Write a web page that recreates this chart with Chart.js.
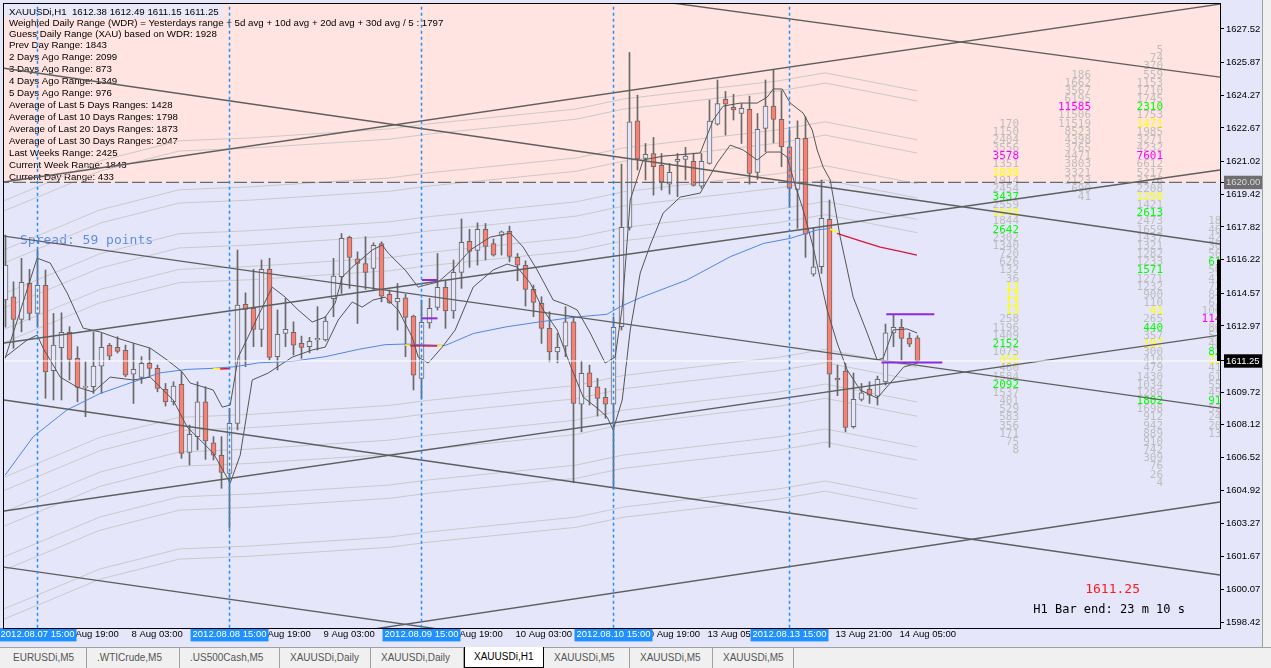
<!DOCTYPE html>
<html>
<head>
<meta charset="utf-8">
<title>XAUUSDi,H1</title>
<script src="https://cdn.jsdelivr.net/npm/chart.js@4.4.1/dist/chart.umd.min.js"></script>
<style>
  html, body { margin: 0; padding: 0; background: #f0f0f0; }
  #wrap { position: relative; width: 1271px; height: 668px; overflow: hidden; font-family: "Liberation Sans", Arial, sans-serif; }
  #chartBox { position: absolute; left: 0; top: 0; width: 1271px; height: 648px; }
  #tabs { position: absolute; left: 0; top: 647px; width: 1271px; height: 21px; background: #f0f0f0; border-top: 1px solid #a0a0a0; }
  .tab { position: absolute; top: 0; height: 20px; line-height: 19px; font-size: 10px; color: #555; border-right: 1px solid #a0a0a0; box-sizing: border-box; padding-left: 10px; white-space: nowrap; }
  .tab.on { background: #fff; color: #000; border: 1px solid #000; border-top: none; top: -1px; height: 21px; padding-left: 9px; }
</style>
</head>
<body>
<div id="wrap">
  <div id="chartBox"><canvas id="priceChart" width="1271" height="648"></canvas></div>
  <div id="tabs">
    <div class="tab" style="left:3px;width:84px">EURUSDi,M5</div>
    <div class="tab" style="left:87px;width:93px">.WTICrude,M5</div>
    <div class="tab" style="left:180px;width:100px">.US500Cash,M5</div>
    <div class="tab" style="left:280px;width:91px">XAUUSDi,Daily</div>
    <div class="tab" style="left:371px;width:93px">XAUUSDi,Daily</div>
    <div class="tab on" style="left:464px;width:80px">XAUUSDi,H1</div>
    <div class="tab" style="left:544px;width:86px">XAUUSDi,M5</div>
    <div class="tab" style="left:630px;width:83px">XAUUSDi,M5</div>
    <div class="tab" style="left:713px;width:81px">XAUUSDi,M5</div>
  </div>
</div>
<script>
// ---- chart data (H1 bars, index 0 = 2012.08.07 12:00) ----
const FIRST_BAR = -1;
const barOpen = [1614.24,1614.40,1613.29,1615.05,1613.58,1614.96,1610.77,1611.90,1612.65,1611.38,
  1609.95,1609.99,1611.00,1612.02,1611.92,1611.77,1610.61,1610.45,1611.13,1610.89,
  1609.86,1609.24,1610.11,1606.77,1607.54,1609.25,1607.24,1606.63,1605.74,1608.19,
  1614.03,1613.83,1612.80,1615.74,1611.46,1612.60,1612.65,1612.11,1611.95,1612.28,
  1612.28,1614.30,1615.38,1617.31,1616.26,1616.03,1615.79,1617.01,1614.52,1614.14,
  1614.35,1613.45,1610.40,1613.12,1613.88,1614.86,1613.71,1615.59,1617.11,1616.67,
  1617.70,1617.01,1617.41,1617.60,1616.33,1615.94,1614.76,1614.07,1612.85,1611.70,
  1611.98,1613.17,1609.14,1610.67,1609.99,1609.47,1609.13,1612.93,1617.80,1623.02,
  1621.18,1621.42,1620.84,1619.91,1621.03,1621.13,1621.03,1619.82,1620.93,1622.85,
  1624.07,1623.68,1623.38,1623.58,1620.49,1622.65,1623.74,1623.09,1621.75,1619.66,
  1622.16,1615.51,1615.87,1618.19,1610.41,1610.76,1608.03,1609.37,1609.86,1609.53,
  1610.22,1612.63,1612.90,1612.36,1612.38];
const barHigh = [1617.42,1615.13,1616.28,1615.74,1616.69,1615.71,1613.58,1613.61,1612.93,1611.95,
  1611.21,1612.68,1612.60,1612.11,1612.44,1612.03,1612.11,1611.46,1611.87,1611.05,
  1610.15,1610.23,1610.72,1608.11,1610.23,1609.99,1607.54,1607.54,1608.93,1616.69,
  1614.59,1615.74,1616.20,1616.28,1613.75,1614.32,1613.17,1612.47,1612.41,1613.91,
  1613.42,1616.28,1617.50,1617.37,1616.60,1617.34,1617.04,1617.09,1614.73,1615.05,
  1614.52,1613.50,1614.24,1614.32,1616.52,1615.22,1616.20,1618.21,1617.70,1618.02,
  1617.99,1617.23,1617.62,1617.86,1616.52,1616.16,1614.97,1614.40,1613.66,1612.60,
  1613.91,1613.42,1611.26,1611.05,1610.40,1609.91,1613.42,1620.90,1626.37,1624.28,
  1621.91,1622.21,1621.42,1620.93,1621.42,1621.72,1621.42,1621.42,1624.04,1625.02,
  1624.46,1624.32,1623.87,1624.23,1623.38,1625.02,1625.51,1624.49,1622.57,1623.02,
  1623.22,1617.76,1620.12,1619.14,1611.05,1611.13,1610.66,1610.15,1610.23,1610.51,
  1613.06,1613.50,1613.29,1612.63,1612.49];
const barLow = [1612.91,1611.87,1612.68,1613.26,1612.93,1609.42,1609.34,1609.34,1610.32,1609.25,
  1608.52,1609.66,1609.66,1611.30,1611.64,1610.48,1609.17,1610.15,1610.48,1609.74,
  1609.04,1609.09,1606.48,1606.15,1606.89,1606.43,1606.40,1605.01,1603.05,1607.87,
  1610.97,1611.95,1611.95,1611.30,1610.81,1611.95,1611.54,1611.38,1611.65,1611.79,
  1612.23,1613.42,1614.56,1614.81,1613.09,1614.76,1614.73,1614.15,1614.07,1612.77,
  1611.46,1609.83,1609.42,1612.86,1613.75,1612.85,1613.34,1614.81,1615.84,1615.95,
  1616.20,1616.39,1616.44,1616.11,1615.18,1613.94,1613.42,1612.11,1611.21,1611.16,
  1611.46,1605.28,1607.78,1609.09,1608.55,1608.44,1605.01,1612.77,1617.67,1620.61,
  1620.12,1619.38,1619.63,1619.43,1619.30,1620.12,1619.82,1619.71,1620.90,1622.81,
  1622.32,1623.06,1621.91,1619.92,1620.15,1621.50,1621.94,1620.77,1618.81,1617.75,
  1616.33,1615.41,1615.54,1607.02,1609.55,1607.78,1607.96,1609.29,1609.17,1609.09,
  1610.07,1611.95,1611.30,1611.95,1611.15];
const barClose = [1615.95,1613.29,1615.10,1613.58,1614.96,1610.72,1612.03,1612.65,1611.33,1609.96,
  1610.02,1611.00,1611.92,1611.49,1611.72,1610.55,1610.84,1611.13,1610.89,1609.91,
  1609.24,1610.02,1606.72,1607.66,1609.25,1607.33,1606.63,1605.79,1608.19,1613.99,
  1613.78,1612.80,1615.74,1611.43,1612.56,1612.80,1612.03,1611.92,1612.21,1612.36,
  1613.21,1615.41,1617.26,1616.33,1616.03,1615.59,1616.92,1614.43,1614.10,1614.32,
  1613.39,1610.56,1613.14,1613.83,1614.86,1613.71,1615.59,1617.06,1616.62,1617.70,
  1616.87,1616.43,1617.58,1616.38,1615.94,1614.76,1614.12,1612.85,1611.70,1611.92,
  1613.17,1609.17,1610.64,1609.99,1609.42,1609.13,1612.90,1617.80,1622.97,1621.15,
  1621.38,1620.77,1620.03,1620.49,1621.13,1621.29,1619.86,1621.03,1623.01,1623.87,
  1623.84,1623.55,1623.63,1620.44,1622.60,1623.74,1623.09,1621.75,1619.71,1622.16,
  1617.47,1615.87,1618.24,1610.61,1610.32,1608.00,1609.37,1609.69,1609.57,1610.35,
  1612.63,1612.90,1612.36,1612.07,1611.25];

// slow moving average (blue) and its projection (red), [bar, price]
const maSlow = [[-1.04,1605.66],[2.46,1607.54],[6.68,1608.85],[10.84,1609.66],[15.0,1610.23],[18.34,1610.67],
  [21.68,1610.84],[24.96,1610.89],[27.71,1610.97],[30.63,1611.16],[34.8,1611.23],[38.96,1611.46],[43.13,1611.82],
  [46.46,1612.05],[48.96,1612.08],[53.96,1612.01],[57.5,1612.60],[61.68,1612.93],[65.84,1613.17],[70.0,1613.39],
  [74.18,1613.54],[75.84,1613.91],[78.34,1614.35],[84.18,1615.22],[89.59,1616.36],[93.75,1617.01],[97.09,1617.26],
  [100.43,1617.67],[102.09,1617.75]];
const maProjection = [[102.93,1617.50],[105.84,1617.14],[108.34,1616.83],[110.84,1616.62],[112.93,1616.44]];
const maYellowParts = [[[24.96,1610.87],[25.84,1610.86]],[[48.96,1612.03],[49.59,1612.0]],[[52.96,1611.98],[53.59,1612.0]],[[102.09,1617.72],[102.93,1617.55]]];
const maRedParts = [[[25.84,1610.86],[27.09,1610.88]],[[49.59,1612.0],[52.96,1611.98]]];

// fast channel lines (thin dark)
const bandUpper = [[-1.04,1611.39],[2.96,1616.29],[4.59,1616.05],[6.71,1614.58],[8.71,1612.86],[10.84,1612.67],
  [12.96,1612.37],[14.96,1612.13],[17.09,1611.88],[19.21,1611.30],[21.09,1610.71],[22.09,1610.17],[24.96,1609.83],
  [26.09,1608.99],[27.09,1609.09],[28.09,1611.44],[32.34,1614.87],[33.96,1614.38],[35.59,1613.75],[37.34,1613.16],
  [38.96,1613.40],[40.21,1614.09],[41.09,1615.36],[42.34,1615.85],[44.84,1616.69],[46.09,1616.93],[46.84,1616.54],
  [48.96,1615.71],[50.59,1614.87],[51.46,1614.97],[53.09,1615.12],[55.21,1615.85],[57.09,1616.69],[59.59,1617.32],
  [62.09,1617.52],[63.71,1616.83],[65.46,1615.71],[67.46,1614.24],[69.21,1613.99],[70.46,1613.75],[72.09,1612.62],
  [73.96,1611.15],[75.21,1611.44],[76.09,1613.89],[77.09,1619.14],[78.71,1621.10],[81.21,1621.29],[85.84,1621.44],
  [87.46,1623.06],[88.71,1623.74],[90.84,1623.89],[92.96,1623.89],[94.21,1624.18],[94.96,1624.58],[96.09,1624.58],
  [97.09,1623.89],[98.71,1623.40],[99.84,1622.57],[100.46,1621.59],[101.21,1620.75],[102.09,1620.12],[103.34,1617.32],
  [104.96,1614.38],[106.71,1612.62],[107.96,1611.30],[108.71,1611.39],[109.96,1612.77],[111.71,1612.82],[112.96,1612.62]];
const bandLower = [[-1.04,1611.44],[1.71,1612.28],[2.96,1612.52],[3.71,1611.88],[5.84,1610.46],[7.96,1609.97],
  [9.96,1609.73],[12.09,1610.46],[14.96,1610.32],[17.09,1610.46],[19.96,1609.34],[21.71,1608.01],[23.34,1607.38],
  [24.96,1606.74],[27.09,1605.27],[28.34,1606.64],[29.84,1610.32],[31.84,1610.66],[34.84,1611.44],[37.34,1611.79],
  [38.96,1611.93],[40.59,1613.26],[42.34,1614.14],[43.59,1613.89],[44.96,1614.24],[46.46,1614.38],[48.09,1613.75],
  [49.84,1612.42],[50.59,1611.44],[51.84,1611.15],[53.59,1611.93],[55.21,1612.77],[57.46,1614.87],[59.96,1615.71],
  [61.71,1616.00],[62.96,1615.85],[64.59,1615.07],[66.21,1613.75],[67.96,1612.77],[69.59,1611.05],[71.21,1609.48],
  [72.96,1608.94],[74.21,1608.50],[74.96,1607.87],[76.09,1609.34],[77.09,1612.77],[78.34,1615.56],[79.59,1616.93],
  [81.21,1618.50],[83.34,1619.28],[85.84,1619.48],[87.96,1620.95],[89.59,1621.83],[91.21,1621.59],[92.96,1621.10],
  [94.21,1621.49],[95.84,1621.49],[96.71,1621.24],[97.71,1619.87],[98.71,1618.65],[99.96,1616.83],[101.71,1613.75],
  [102.96,1612.13],[104.21,1610.81],[105.84,1609.83],[107.96,1609.43],[109.59,1610.17],[111.26,1610.95],[112.96,1611.15]];

// envelope middle and the distances of the light grey envelope lines
const envMiddle = [[-1.19,1608.85],[10.84,1610.81],[20.71,1611.79],[29.46,1611.93],[46.96,1612.37],[51.84,1612.62],
  [70.34,1613.35],[76.21,1613.84],[95.59,1614.73],[101.46,1615.12],[112.96,1614.24]];
const envDistances = [3.3, 3.95, 5.0, 5.7, 7.2, 7.85, 9.75, 10.25];

// trend lines: [[bar, price], [bar, price]]
const trendLines = [
  [[-1.19,1620.02],[150.81,1628.74]],
  [[-1.19,1625.60],[150.81,1616.98]],
  [[60,1629.98],[150.81,1625.16]],
  [[-1.19,1612.13],[150.81,1620.61]],
  [[-1.19,1617.37],[150.81,1608.94]],
  [[-1.19,1609.34],[150.81,1600.76]],
  [[-1.19,1603.90],[150.81,1612.52]],
  [[-1.19,1601.15],[80,1596.61]],
  [[30,1597.23],[150.81,1604.34]]
];
const purpleLines = [
  [[109.1,1613.54],[115.1,1613.54]],
  [[108.5,1611.18],[116.1,1611.18]],
  [[51.05,1615.22],[52.96,1615.22]],
  [[51.05,1613.34],[53.0,1613.34]]
];
const separatorBars = [3, 27, 51, 75, 97];
const BID = 1611.25;
const ZONE_FLOOR = 1620.00;
const rangeBarTop = 1616.22;

// price axis
const priceTicks = [1627.52,1625.87,1624.27,1622.67,1621.02,1619.42,1617.82,1616.22,1614.57,1612.97,
  1609.72,1608.12,1606.52,1604.92,1603.27,1601.67,1600.07,1598.42];
const markedPrices = [1620.00, 1611.25];

// time axis
const timeTickBars = [7,15,23,31,39,47,55,63,71,79,87,95,103,111];
const timeTickText = ['7 Aug 19:00','8 Aug 03:00','8 Aug 11:00','8 Aug 19:00','9 Aug 03:00','9 Aug 11:00',
  '9 Aug 19:00','10 Aug 03:00','10 Aug 11:00','10 Aug 19:00','13 Aug 05:00','13 Aug 13:00','13 Aug 21:00','14 Aug 05:00'];
const markedTimeText = ['2012.08.07 15:00','2012.08.08 15:00','2012.08.09 15:00','2012.08.10 15:00','2012.08.13 15:00'];

// volume per price level, right side (top level, step 0.40)
const VP_STEP = 0.40;
const vpTop = [1622.88, 1625.28, 1626.48, 1618.08];
const vpValues = [
  [170,1150,2404,3556,3578,1351,1839,1914,2454,3437,2559,1043,1844,2642,2302,1340,720,626,132,36,13,13,13,13,
   258,1196,1409,2152,1075,456,460,1584,2092,1537,401,529,583,356,171,75,8],
  [186,1662,3567,6195,11585,11506,11519,8523,4398,3765,4471,3803,3321,2123,690,41],
  [5,74,370,559,1153,1710,1745,2310,1753,1471,1985,3271,4232,7601,6612,5217,3176,2208,1250,1421,2613,2473,1659,
   1437,1321,1282,1233,1571,1271,1232,900,110,41,265,440,357,197,300,410,479,1430,1034,1286,1802,1698,912,942,889,
   910,742,309,76,26,4],
  [185,460,422,302,563,611,502,415,726,845,622,1063,1145,806,533,489,821,235,416,613,550,451,917,520,240,201,135]
];
const vpMarks = [
  '----m-y--g-y-g------yyyy---g-y--g--------',
  '----m-----------',
  '-------g-y---m----y-g------g----y-g-y------g----------',
  '-----g------m---gy----g----'
];

const infoLines = [
  'XAUUSDi,H1  1612.38 1612.49 1611.15 1611.25',
  'Weighted Daily Range (WDR) = Yesterdays range + 5d avg + 10d avg + 20d avg + 30d avg / 5 : 1797',
  'Guess Daily Range (XAU) based on WDR: 1928',
  'Prev Day Range: 1843',
  '2 Days Ago Range: 2099',
  '3 Days Ago Range: 873',
  '4 Days Ago Range: 1349',
  '5 Days Ago Range: 976',
  'Average of Last 5 Days Ranges: 1428',
  'Average of Last 10 Days Ranges: 1798',
  'Average of Last 20 Days Ranges: 1873',
  'Average of Last 30 Days Ranges: 2047',
  'Last Weeks Range: 2425',
  'Current Week Range: 1843',
  'Current Day Range: 433'
];

// ---- layout ----
const X_MIN = -1.1875, X_MAX = 150.8125;
const Y_MIN = 1598.165, Y_MAX = 1628.745;
const SANS = '"Liberation Sans", Arial, sans-serif';
const MONO = '"DejaVu Sans Mono", monospace';
const vpColRight = [1019, 1091, 1163, 1228];
const markColor = { m: '#FF00FF', y: '#FFFF00', g: '#00FF00', '-': '#BDBDBD' };

const barIndex = barOpen.map((o, i) => FIRST_BAR + i);
const xTickValues = timeTickBars.map(b => b - 0.25).concat(separatorBars.map(b => b - 4.62));
const xTickLabels = timeTickText.concat(markedTimeText);
const nRegular = timeTickBars.length;
const yTickValues = priceTicks.concat(markedPrices);

function pts(arr) { return arr.map(p => ({ x: p[0], y: p[1] })); }
function lineSet(data, color, width, order, dash) {
  return { type: 'line', data: data, borderColor: color, backgroundColor: color, borderWidth: width,
    borderDash: dash || [], pointRadius: 0, fill: false, tension: 0, order: order };
}

const datasets = [];
envDistances.forEach(d => {
  datasets.push(lineSet(envMiddle.map(p => ({ x: p[0], y: p[1] + d })), '#CACACA', 1, 20));
  datasets.push(lineSet(envMiddle.map(p => ({ x: p[0], y: p[1] - d })), '#CACACA', 1, 20));
});
datasets.push({
  type: 'bar', data: barIndex.map((b, i) => ({ x: b, y: [barLow[i], barHigh[i]] })),
  backgroundColor: '#696969', barThickness: 1, grouped: false, order: 15
});
datasets.push({
  type: 'bar', data: barIndex.map((b, i) => ({ x: b, y: [barOpen[i], barClose[i]] })),
  backgroundColor: barIndex.map((b, i) => barClose[i] >= barOpen[i] ? '#E6E6FA' : '#FA8072'),
  borderColor: '#696969', borderWidth: 1, borderSkipped: false, barThickness: 5, minBarLength: 1,
  grouped: false, order: 14
});
datasets.push(lineSet(pts(maSlow), '#4F86E6', 1, 12));
datasets.push(lineSet(pts(maProjection), '#DC143C', 1.3, 12));
maRedParts.forEach(s => datasets.push(lineSet(pts(s), '#DC143C', 1.5, 11)));
maYellowParts.forEach(s => datasets.push(lineSet(pts(s), '#FFFF00', 1.5, 11)));
datasets.push(lineSet(pts(bandUpper), '#555555', 1, 10));
datasets.push(lineSet(pts(bandLower), '#555555', 1, 10));
// day separators (vertical, dashed)
separatorBars.forEach(b => datasets.push(
  lineSet([{ x: b, y: Y_MIN + 0.01 }, { x: b, y: Y_MAX - 0.01 }], '#1E90FF', 1.5, 3, [3, 3])
));
trendLines.forEach(t => datasets.push(lineSet(pts(t), '#5E5E5E', 1.4, 8)));
datasets.push(lineSet([{ x: X_MIN - 1, y: ZONE_FLOOR }, { x: X_MAX + 1, y: ZONE_FLOOR }], '#6A6A6A', 1.2, 7, [13, 4]));
datasets.push(lineSet([{ x: X_MIN - 1, y: BID }, { x: X_MAX + 1, y: BID }], '#FFFFFF', 1, 6));
purpleLines.forEach(p => datasets.push(lineSet(pts(p), '#8A2BE2', 2, 5)));

const chartDecor = {
  id: 'chartDecor',
  beforeDraw(chart) {
    const { ctx, chartArea: a, scales: { y } } = chart;
    ctx.save();
    ctx.fillStyle = '#E6E6FA';
    ctx.fillRect(0, 0, chart.width, chart.height);
    const zy = y.getPixelForValue(ZONE_FLOOR);
    ctx.fillStyle = '#FFE4E1';
    ctx.fillRect(a.left, a.top, a.right - a.left, zy - a.top);
    ctx.restore();
  },
  beforeDatasetsDraw(chart) {
    const { ctx, chartArea: a, scales: { y } } = chart;
    ctx.save();
    ctx.beginPath();
    ctx.rect(a.left, a.top, a.right - a.left, a.bottom - a.top);
    ctx.clip();
    // info block
    ctx.font = '9.7px ' + SANS;
    ctx.textBaseline = 'middle';
    ctx.textAlign = 'left';
    ctx.fillStyle = '#E8E8F8';
    ctx.fillRect(5, 4, ctx.measureText(infoLines[0]).width + 8, 14);
    ctx.fillStyle = '#000';
    infoLines.forEach((t, k) => {
      const ty = k < 3 ? 12 + 11 * k : 45.5 + 12 * (k - 3);
      ctx.fillText(t, 9, ty);
    });
    ctx.font = '13px ' + MONO;
    ctx.fillStyle = '#5B8DE6';
    ctx.fillText('Spread: 59 points', 20, 241);
    // volume columns
    ctx.font = '11px ' + MONO;
    ctx.textAlign = 'right';
    for (let pass = 0; pass < 2; pass++) {
      vpValues.forEach((col, c) => {
        col.forEach((v, r) => {
          const m = vpMarks[c][r] || '-';
          if ((pass === 0) !== (m === '-')) return;
          ctx.fillStyle = markColor[m];
          ctx.fillText(String(v), vpColRight[c], y.getPixelForValue(vpTop[c] - r * VP_STEP));
        });
      });
    }
    ctx.restore();
  },
  afterDatasetsDraw(chart) {
    const { ctx, chartArea: a, scales: { y } } = chart;
    ctx.save();
    // range bar at the right edge
    const t = y.getPixelForValue(rangeBarTop), b = y.getPixelForValue(BID);
    ctx.fillStyle = '#000';
    ctx.fillRect(a.right - 3, t, 3, b - t);
    // frame
    ctx.strokeStyle = '#000';
    ctx.lineWidth = 1;
    ctx.strokeRect(a.left - 0.5, a.top - 0.5, a.right - a.left + 1, a.bottom - a.top + 1);
    // timer texts
    ctx.textAlign = 'right';
    ctx.textBaseline = 'middle';
    ctx.font = '13px ' + MONO;
    ctx.fillStyle = '#FF1A1A';
    ctx.fillText(BID.toFixed(2), 1140, 590);
    ctx.font = '12px ' + MONO;
    ctx.fillStyle = '#000';
    ctx.fillText('H1 Bar end: 23 m 10 s', 1185, 610);
    // scroll strip at far right
    ctx.fillStyle = '#F0F0F0';
    ctx.fillRect(1263, 0, 8, chart.height);
    ctx.fillStyle = '#A0A0A0';
    ctx.fillRect(1262, 0, 1, chart.height);
    ctx.restore();
  }
};

const chart = new Chart(document.getElementById('priceChart'), {
  type: 'bar',
  data: { datasets: datasets },
  options: {
    responsive: false,
    animation: false,
    devicePixelRatio: 1,
    events: [],
    layout: { padding: { left: 4, top: 4, right: 0, bottom: 0 } },
    plugins: { legend: { display: false }, tooltip: { enabled: false } },
    scales: {
      x: {
        type: 'linear', position: 'bottom', min: X_MIN, max: X_MAX, offset: false,
        grid: { display: false, offset: false, drawTicks: false },
        border: { display: false },
        afterBuildTicks: s => { s.ticks = xTickValues.map(v => ({ value: v })); },
        afterFit: s => { s.height = 20; s.paddingLeft = 0; s.paddingRight = 0; },
        ticks: {
          autoSkip: false, minRotation: 0, maxRotation: 0, align: 'start', padding: 1,
          font: { family: SANS, size: 9.5 },
          color: c => c.index >= nRegular ? '#FFFFFF' : '#000000',
          showLabelBackdrop: c => c.index >= nRegular,
          backdropColor: '#1E90FF',
          backdropPadding: { top: 1, bottom: 1, left: 2, right: 2 },
          callback: (v, i) => xTickLabels[i]
        }
      },
      y: {
        type: 'linear', position: 'right', min: Y_MIN, max: Y_MAX, beginAtZero: false,
        grid: { display: true, drawOnChartArea: false, drawTicks: true, tickLength: 4, color: '#000' },
        border: { display: false },
        afterBuildTicks: s => { s.ticks = yTickValues.map(v => ({ value: v })); },
        afterFit: s => { s.width = 51; s.paddingTop = 0; s.paddingBottom = 0; },
        ticks: {
          autoSkip: false, padding: 2,
          font: { family: SANS, size: 9.5 },
          color: c => c.index === priceTicks.length ? '#D8D8D8' : (c.index > priceTicks.length ? '#FFFFFF' : '#000000'),
          showLabelBackdrop: c => c.index >= priceTicks.length,
          backdropColor: c => c.index === priceTicks.length ? '#6E6E6E' : '#000000',
          backdropPadding: { top: 1, bottom: 1, left: 2, right: 3 },
          callback: v => v.toFixed(2)
        }
      }
    }
  },
  plugins: [chartDecor]
});
</script>
</body>
</html>
